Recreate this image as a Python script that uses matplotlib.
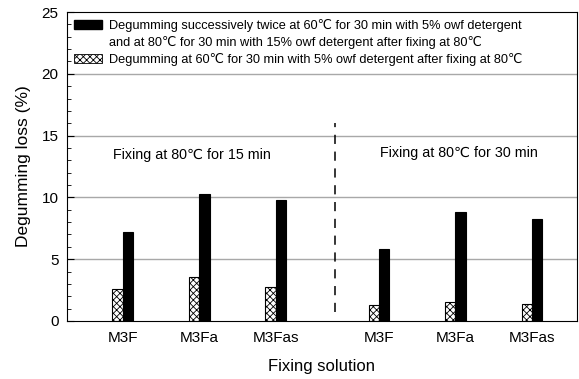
import matplotlib
matplotlib.use("Agg")
import matplotlib.pyplot as plt
from matplotlib.patches import Patch
from matplotlib.ticker import MultipleLocator

plt.rcParams['font.family'] = ['Liberation Sans', 'DejaVu Sans']
plt.rcParams['hatch.linewidth'] = 0.6

# data
labels = ['M3F', 'M3Fa', 'M3Fas', 'M3F', 'M3Fa', 'M3Fas']
positions = [1, 2, 3, 4.35, 5.35, 6.35]
single = [2.6, 3.55, 2.75, 1.3, 1.5, 1.4]      # hatched
twice = [7.2, 10.3, 9.8, 5.8, 8.8, 8.25]       # black
group_text = ['Fixing at 80\u2103 for 15 min', 'Fixing at 80\u2103 for 30 min']

lab_twice = 'Degumming successively twice at 60\u2103 for 30 min with 5% owf detergent'
lab_twice2 = 'and at 80\u2103 for 30 min with 15% owf detergent after fixing at 80\u2103'
lab_single = 'Degumming at 60\u2103 for 30 min with 5% owf detergent after fixing at 80\u2103'

fig = plt.figure(figsize=(5.79, 3.79), dpi=100)
ax = fig.add_axes([67/579, 58/379, 510/579, 309/379])

w = 0.135
for y in [5, 10, 15, 20]:
    ax.axhline(y, color='#a8a8a8', lw=1, zorder=0)

ax.bar([p - w/2 for p in positions], single, width=w, color='white',
       edgecolor='black', hatch='xxxxx', lw=0.8, zorder=2)
ax.bar([p + w/2 for p in positions], twice, width=w, color='black',
       edgecolor='black', lw=0.8, zorder=2)

ax.plot([3.78, 3.78], [0.7, 16], color='black', ls=(0, (6, 5)), lw=1.1)
ax.text(1.9, 13.4, group_text[0], ha='center', va='center', fontsize=10.3)
ax.text(5.4, 13.6, group_text[1], ha='center', va='center', fontsize=10.3)

ax.set_xlim(0.27, 6.94)
ax.set_ylim(0, 25)
ax.set_xticks(positions)
ax.set_xticklabels(labels, fontsize=11)
ax.yaxis.set_major_locator(MultipleLocator(5))
ax.yaxis.set_minor_locator(MultipleLocator(1))
ax.tick_params(axis='x', length=0, pad=7)
ax.tick_params(axis='y', which='major', direction='in', length=5, labelsize=11, pad=6)
ax.tick_params(axis='y', which='minor', direction='in', length=3)
ax.set_xlabel('Fixing solution', fontsize=12, labelpad=10)
ax.set_ylabel('Degumming loss (%)', fontsize=12.5, labelpad=8)

handles = [Patch(facecolor='black', edgecolor='black'),
           Patch(facecolor='none', edgecolor='none'),
           Patch(facecolor='white', edgecolor='black', hatch='xxxxx', lw=0.6)]
ax.legend(handles, [lab_twice, lab_twice2, lab_single], loc='upper left',
          bbox_to_anchor=(0, 1), frameon=False, fontsize=9.2,
          handlelength=2.2, handleheight=0.7, handletextpad=0.5,
          labelspacing=0.3, borderaxespad=0.2, borderpad=0.35)

fig.savefig('out.png', dpi=100)
